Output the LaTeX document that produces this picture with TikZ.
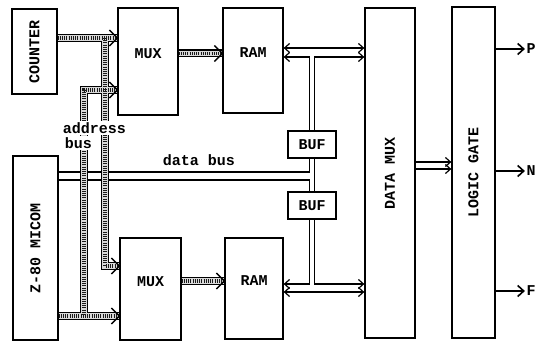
\documentclass[tikz,border=0pt]{standalone}
\usepackage{fontspec}
\setmonofont{Liberation Mono}
\usepackage{tikz}
\usetikzlibrary{arrows.meta,calc}

% open barb drawn over the end of an address bus
\newcommand{\busarrow}[1]{\draw[line width=1.3pt] #1 ++(-8,-8) -- ++(8,8) -- ++(-8,8);}

\begin{document}
\begin{tikzpicture}[
    x=1pt, y=-1pt,
    line width=1.2pt,
    box/.style={rectangle, draw=black, line width=1.3pt, inner sep=0pt,
                font=\ttfamily\bfseries\fontsize{15}{17}\selectfont},
    upbox/.style={box, text depth=15pt},
    txt/.style={font=\ttfamily\bfseries\fontsize{15}{17}\selectfont, inner sep=1pt},
    abus/.style={draw=black!15, line width=5.5pt,
                 preaction={draw=black, line width=8pt},
                 postaction={draw=black!90, line width=3.5pt, dash pattern=on 1pt off 1.2pt}},
    barb/.style={{Straight Barb[length=5pt,width=9pt]}-{Straight Barb[length=5pt,width=9pt]}},
    lbarb/.style={{Straight Barb[length=5pt,width=9pt]}-},
    rbarb/.style={-{Straight Barb[length=5pt,width=9pt]}},
    outarrow/.style={line width=1.6pt, -{Straight Barb[length=6pt,width=11pt]}}
]
\useasboundingbox (0,0) rectangle (548,342);

% ================= BLOCKS =================
\node[box, minimum width=45pt, minimum height=85pt] (cnt) at (34.5,51.5) {\rotatebox{90}{COUNTER}};
\node[box, minimum width=45pt, minimum height=184pt] (z80) at (35.5,248) {\rotatebox{90}{Z-80 MICOM}};

\node[upbox, minimum width=60pt, minimum height=107pt] (m1) at (148,61.5) {MUX};
\node[upbox, minimum width=61pt, minimum height=102pt] (m2) at (150.5,289) {MUX};

\node[upbox, minimum width=60pt, minimum height=105pt] (r1) at (253,60.5) {RAM};
\node[upbox, minimum width=58pt, minimum height=101pt] (r2) at (254,288.5) {RAM};

\node[box, minimum width=48pt, minimum height=27pt] (b1) at (312,144.5) {BUF};
\node[box, minimum width=48pt, minimum height=27pt] (b2) at (312,205.5) {BUF};

\node[box, minimum width=50pt, minimum height=330pt] (dm) at (390,173) {\rotatebox{90}{DATA MUX}};
\node[box, minimum width=43pt, minimum height=331pt] (lg) at (473.5,172.5) {\rotatebox{90}{LOGIC GATE}};

% ================= DATA PATHS =================
% data bus from the micom into the buffers
\draw ([yshift=76pt]z80.east) -| ([xshift=-2.5pt]b1.south);
\draw ([yshift=68pt]z80.east) -| ([xshift=-2.5pt]b2.north);
\draw ([xshift=2.5pt]b1.south) -- ([xshift=2.5pt]b2.north);
\node[txt] (dbus) at (199,160) {data bus};

% upper RAM <-> DATA MUX
\draw[barb] ([yshift=12.5pt]r1.east) -- ([yshift=12.5pt]r1.east -| dm.west);
\draw[lbarb] ([yshift=3.5pt]r1.east) -| ([xshift=-2.5pt]b1.north);
\draw[rbarb] ([xshift=2.5pt]b1.north) |- ([yshift=3.5pt]r1.east -| dm.west);

% lower RAM <-> DATA MUX
\draw[barb] ([yshift=-3.5pt]r2.east) -- ([yshift=-3.5pt]r2.east -| dm.west);
\draw[lbarb] ([yshift=4.5pt]r2.east) -| ([xshift=-2.5pt]b2.south);
\draw[rbarb] ([xshift=2.5pt]b2.south) |- ([yshift=4.5pt]r2.east -| dm.west);

% DATA MUX -> LOGIC GATE
\draw[rbarb] ([yshift=11pt]dm.east) -- ([yshift=11pt]dm.east -| lg.west);
\draw[rbarb] ([yshift=4pt]dm.east) -- ([yshift=4pt]dm.east -| lg.west);

% ================= ADDRESS BUSES =================
\coordinate (a1) at (105,38);
\coordinate (a2) at (105,266);
\coordinate (c1) at (84,90);
\coordinate (c2) at (84,316);

\draw[abus] (cnt.east |- a1) -- (m1.west |- a1)
            (a1) -- (a2) -- (m2.west |- a2)
            (m1.west |- c1) -- (c1) -- (c2)
            (z80.east |- c2) -- (m2.west |- c2)
            ([yshift=8pt]m1.east) -- ([yshift=8pt]m1.east -| r1.west)
            ([yshift=8pt]m2.east) -- ([yshift=8pt]m2.east -| r2.west);

\busarrow{(m1.west |- a1)}
\busarrow{(m1.west |- c1)}
\busarrow{(m2.west |- a2)}
\busarrow{(m2.west |- c2)}
\busarrow{([yshift=8pt]m1.east -| r1.west)}
\busarrow{([yshift=8pt]m2.east -| r2.west)}

\node[txt, fill=white] (adr) at (94.5,128) {address};
\node[txt, fill=white] (adb) at (78.5,143) {bus};

% ================= OUTPUTS =================
\node[txt] (p) at (531,49) {P};
\node[txt] (n) at (531,171) {N};
\node[txt] (f) at (531,291) {F};
\draw[outarrow] (lg.east |- p) -- (p.west);
\draw[outarrow] (lg.east |- n) -- (n.west);
\draw[outarrow] (lg.east |- f) -- (f.west);

\end{tikzpicture}
\end{document}
